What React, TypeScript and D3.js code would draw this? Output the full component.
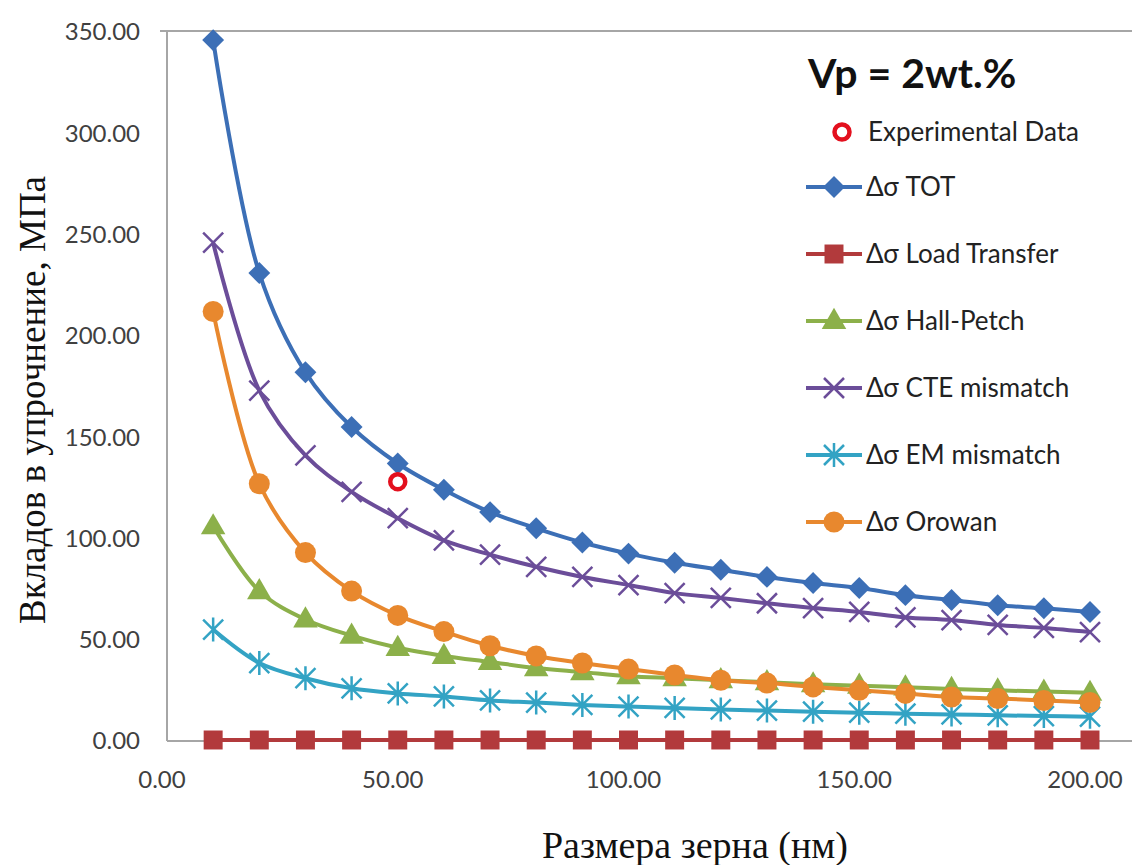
import React from 'react';
import * as d3 from 'd3';

// grain size (nm) for every computed point
const grainSize = [10, 20, 30, 40, 50, 60, 70, 80, 90, 100, 110, 120, 130, 140, 150, 160, 170, 180, 190, 200];

// strengthening contributions, MPa
const totValues = [346, 231, 182, 155, 137, 124, 113, 105, 98, 92.5, 88, 84.5, 81, 78, 75.5, 72, 69.6, 67, 65.5, 63.7];
const loadTransferValues = [0.5, 0.5, 0.5, 0.5, 0.5, 0.5, 0.5, 0.5, 0.5, 0.5, 0.5, 0.5, 0.5, 0.5, 0.5, 0.5, 0.5, 0.5, 0.5, 0.5];
const hallPetchValues = [106, 74, 60, 52, 46, 42, 39, 36, 34, 32, 31, 30, 29, 28, 27.3, 26.5, 25.7, 25, 24.4, 23.8];
const cteValues = [246, 173, 141, 123, 110, 99, 92, 86, 81, 77, 73, 70.6, 68, 65.6, 63.7, 61, 59.7, 57.3, 55.8, 53.8];
const emValues = [55, 38.5, 31, 26, 23.5, 22, 20, 19, 17.8, 17, 16.3, 15.6, 15, 14.5, 14, 13.5, 13.1, 12.7, 12.3, 12];
const orowanValues = [212, 127, 93, 74, 62, 54, 47, 42, 38.5, 35.5, 32.6, 30, 28.6, 26.7, 25, 23.5, 21.7, 21, 20, 19];

const experimentalX = [50];
const experimentalY = [128];

const xTicks = [0, 50, 100, 150, 200];
const yTicks = [0, 50, 100, 150, 200, 250, 300, 350];

type MarkerKind = 'diamond' | 'square' | 'triangle' | 'times' | 'asterisk' | 'circle';

const seriesList: { name: string; values: number[]; color: string; marker: MarkerKind }[] = [
  { name: 'Δσ TOT', values: totValues, color: '#3c6fb6', marker: 'diamond' },
  { name: 'Δσ Load Transfer', values: loadTransferValues, color: '#b23a3c', marker: 'square' },
  { name: 'Δσ Hall-Petch', values: hallPetchValues, color: '#8cb04a', marker: 'triangle' },
  { name: 'Δσ CTE mismatch', values: cteValues, color: '#6b4d99', marker: 'times' },
  { name: 'Δσ EM mismatch', values: emValues, color: '#33a3c4', marker: 'asterisk' },
  { name: 'Δσ Orowan', values: orowanValues, color: '#e8882e', marker: 'circle' },
];

const width = 1132;
const height = 865;
const uiFont = 'Lato, "Open Sans", sans-serif';
const serifFont = '"Liberation Serif", "DejaVu Serif", serif';

const Marker = ({ kind, cx, cy, color }: { kind: MarkerKind; cx: number; cy: number; color: string }) => {
  if (kind === 'diamond') {
    return <path d={d3.symbol().type(d3.symbolSquare).size(240)()!} transform={`translate(${cx},${cy}) rotate(45)`} fill={color} />;
  }
  if (kind === 'square') {
    return <path d={d3.symbol().type(d3.symbolSquare).size(360)()!} transform={`translate(${cx},${cy})`} fill={color} />;
  }
  if (kind === 'triangle') {
    return <path d={d3.symbol().type(d3.symbolTriangle).size(260)()!} transform={`translate(${cx},${cy + 1})`} fill={color} />;
  }
  if (kind === 'circle') {
    return <circle cx={cx} cy={cy} r={10.5} fill={color} />;
  }
  const r = 10;
  const xPath = `M${-r},${-r}L${r},${r}M${-r},${r}L${r},${-r}`;
  const d = kind === 'times' ? xPath : `${xPath}M0,${-r * 1.2}L0,${r * 1.2}`;
  return <path d={d} transform={`translate(${cx},${cy})`} stroke={color} strokeWidth={2.5} fill="none" />;
};

const App = () => {
  const x = d3.scaleLinear().domain([0, 200]).range([167, 1090]);
  const y = d3.scaleLinear().domain([0, 350]).range([741, 32]);

  const line = d3.line<number>()
    .x((_, i) => x(grainSize[i]))
    .y((d) => y(d))
    .curve(d3.curveCatmullRom.alpha(0.5));

  // legend layout
  const legendLineX1 = 806;
  const legendLineX2 = 862;
  const legendTextX = 866;
  const legendTop = 187;
  const legendStep = 67;

  return (
    <svg width={width} height={height} style={{ position: 'absolute', left: 0, top: 0, background: '#fff' }}>
      <rect x={0} y={0} width={width} height={height} fill="#fff" />

      {/* plot frame */}
      <line x1={167} x2={width} y1={31} y2={31} stroke="#a6a6a6" strokeWidth={2} />
      <line x1={167} x2={167} y1={31} y2={741} stroke="#a6a6a6" strokeWidth={2} />
      <line x1={160} x2={167} y1={31} y2={31} stroke="#a6a6a6" strokeWidth={2} />
      <line x1={167} x2={width} y1={741} y2={741} stroke="#a6a6a6" strokeWidth={2} />

      {/* y tick labels */}
      {yTicks.map((t) => (
        <text key={`y${t}`} x={140} y={y(t)} dy="0.35em" textAnchor="end" fontFamily={uiFont} fontSize={24} fill="#404040">
          {t.toFixed(2)}
        </text>
      ))}

      {/* x tick labels */}
      {xTicks.map((t) => (
        <text key={`x${t}`} x={x(t) - 5} y={780} dy="0.35em" textAnchor="middle" fontFamily={uiFont} fontSize={24} fill="#404040">
          {t.toFixed(2)}
        </text>
      ))}

      {/* axis titles */}
      <text
        transform={`translate(32,${400}) rotate(-90)`}
        textAnchor="middle"
        dy="0.35em"
        fontFamily={serifFont}
        fontSize={37}
        fill="#111"
      >
        Вкладов в упрочнение, МПа
      </text>
      <text x={695} y={858} textAnchor="middle" fontFamily={serifFont} fontSize={38} fill="#111">
        Размера зерна (нм)
      </text>

      {/* series */}
      {seriesList.map((s) => (
        <g key={s.name}>
          <path d={line(s.values)!} fill="none" stroke={s.color} strokeWidth={4} />
          {s.values.map((v, i) => (
            <Marker key={i} kind={s.marker} cx={x(grainSize[i])} cy={y(v)} color={s.color} />
          ))}
        </g>
      ))}

      {/* experimental data */}
      {experimentalX.map((ex, i) => (
        <circle key={`exp${i}`} cx={x(ex)} cy={y(experimentalY[i])} r={7.5} fill="#fff" stroke="#e3101e" strokeWidth={4.5} />
      ))}

      {/* legend */}
      <text x={808} y={88} fontFamily={uiFont} fontWeight="bold" fontSize={41} fill="#111">
        Vp = 2wt.%
      </text>
      <circle cx={842} cy={132} r={7.5} fill="#fff" stroke="#e3101e" strokeWidth={4.5} />
      <text x={868} y={132} dy="0.35em" fontFamily={uiFont} fontSize={26} fill="#222">
        Experimental Data
      </text>
      {seriesList.map((s, i) => {
        const ly = legendTop + i * legendStep;
        return (
          <g key={`lg${s.name}`}>
            <line x1={legendLineX1} x2={legendLineX2} y1={ly} y2={ly} stroke={s.color} strokeWidth={4} />
            <Marker kind={s.marker} cx={(legendLineX1 + legendLineX2) / 2} cy={ly} color={s.color} />
            <text x={legendTextX} y={ly} dy="0.35em" fontFamily={uiFont} fontSize={26} fill="#222">
              {s.name}
            </text>
          </g>
        );
      })}
    </svg>
  );
};

export default App;
